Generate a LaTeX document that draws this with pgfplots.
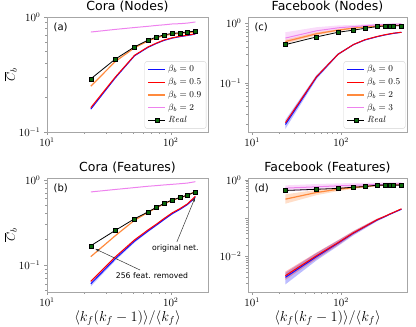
\documentclass[border=0pt]{standalone}
\usepackage{fontspec}
\usepackage{pgfplots}
\pgfplotsset{compat=1.18}
\usetikzlibrary{arrows.meta}
\newfontfamily\dv{DejaVu Sans}

\definecolor{mplblue}{HTML}{1010FF}
\definecolor{mplred}{HTML}{FF0000}
\definecolor{mplorange}{HTML}{FF8A3D}
\definecolor{mplviolet}{HTML}{EE82EE}
\definecolor{realgreen}{HTML}{0B6A0B}

\pgfplotsset{
  mypanel/.style={
    scale only axis,
    xtick={10,100},
    axis line style={gray!70},
    every tick/.style={gray!80},
    tick align=outside,
    xtick pos=left, ytick pos=left,
    major tick length=3pt, minor tick length=1.6pt,
    tick label style={font=\fontsize{10.5}{11}\selectfont},
    xticklabel style={yshift=1pt},
    title style={font=\dv\fontsize{12.5}{14}\selectfont, yshift=-5pt},
    legend cell align=left,
    legend style={font=\fontsize{9}{10}\selectfont, draw=gray!35, rounded corners=2pt,
      fill=white, row sep=1pt, inner xsep=3pt, inner ysep=2pt},
  },
  myylab/.style={ylabel={$\overline{C}_b$}, ylabel style={font=\fontsize{13}{14}\selectfont, at={(axis description cs:-0.225,0.5)}, anchor=center}},
  myxlab/.style={xlabel={$\langle k_f(k_f-1)\rangle/\langle k_f\rangle$}, xlabel style={font=\fontsize{14}{15}\selectfont, at={(axis description cs:0.5,-0.228)}, anchor=center}},
  realplot/.style={black, line width=0.8pt, mark=square*, mark size=2pt, mark options={fill=realgreen, draw=black, line width=0.4pt}},
  pblue/.style={color=mplblue, line width=1pt},
  pred/.style={color=mplred, line width=1pt},
  porange/.style={color=mplorange, line width=1.2pt},
  pviolet/.style={color=mplviolet, line width=1pt},
  band/.style={draw=none, fill=#1, fill opacity=0.28, forget plot},
}

\begin{document}
\begin{tikzpicture}
\useasboundingbox (0,0) rectangle (416pt,327pt);

% (a) Cora (Nodes)
\begin{loglogaxis}[mypanel, myylab, at={(47pt,195pt)}, anchor=south west,
  width=161pt, height=115pt,
  xmin=10, xmax=200, ymin=0.1, ymax=1,
  title={Cora (Nodes)},
  legend style={at={(0.99,0.03)}, anchor=south east}]
\addplot[pblue, forget plot] coordinates {(22.6,0.158)(35.6,0.295)(51,0.46)(65.6,0.545)(77,0.59)(88,0.625)(103,0.655)(119,0.675)(136,0.69)(158,0.71)};
\addplot[pred, forget plot] coordinates {(22.6,0.163)(35.6,0.30)(51,0.465)(65.6,0.55)(77,0.595)(88,0.63)(103,0.66)(119,0.68)(136,0.695)(158,0.715)};
\addplot[porange, forget plot] coordinates {(22.6,0.25)(35.6,0.41)(51,0.54)(65.6,0.62)(77,0.66)(88,0.69)(103,0.71)(119,0.72)(136,0.73)(158,0.74)};
\addplot[pviolet, forget plot] coordinates {(22.6,0.74)(35.6,0.78)(51,0.81)(65.6,0.83)(77,0.845)(88,0.855)(103,0.87)(119,0.875)(136,0.885)(158,0.905)};
\addplot[realplot, forget plot] coordinates {(22.6,0.29)(35.6,0.43)(51,0.55)(65.6,0.63)(77,0.67)(88,0.70)(103,0.72)(119,0.73)(136,0.74)(158,0.755)};
\addlegendimage{pblue}\addlegendentry{$\beta_b=0$}
\addlegendimage{pred}\addlegendentry{$\beta_b=0.5$}
\addlegendimage{porange}\addlegendentry{$\beta_b=0.9$}
\addlegendimage{pviolet}\addlegendentry{$\beta_b=2$}
\addlegendimage{realplot}\addlegendentry{$\mathit{Real}$}
\node[anchor=north west, font=\dv\fontsize{10}{11}\selectfont, inner sep=0pt] at (rel axis cs:0.04,0.95) {(a)};
\end{loglogaxis}

% (c) Facebook (Nodes)
\begin{loglogaxis}[mypanel, at={(248pt,195pt)}, anchor=south west,
  width=159pt, height=115pt,
  xmin=9, xmax=550, ymin=0.015, ymax=1.26,
  title={Facebook (Nodes)},
  legend style={at={(0.99,0.03)}, anchor=south east}]
\addplot[band=mplviolet] coordinates {(23.7,0.70)(53,0.85)(92.5,0.91)(138,0.93)(185,0.95)(254,0.97)(309,0.975)(355,0.98)(388,0.985)(477,0.99)
  (477,0.94)(388,0.925)(355,0.92)(309,0.905)(254,0.89)(185,0.85)(138,0.81)(92.5,0.75)(53,0.64)(23.7,0.46)} -- cycle;
\addplot[band=mplorange] coordinates {(23.7,0.53)(53,0.70)(92.5,0.79)(138,0.85)(185,0.88)(254,0.91)(309,0.92)(355,0.925)(388,0.93)(477,0.935)
  (477,0.905)(388,0.90)(355,0.895)(309,0.89)(254,0.87)(185,0.84)(138,0.79)(92.5,0.73)(53,0.62)(23.7,0.45)} -- cycle;
\addplot[band=mplblue] coordinates {(23.7,0.024)(53,0.135)(92.5,0.31)(138,0.445)(185,0.53)(254,0.60)(309,0.64)(355,0.665)(388,0.68)(477,0.71)
  (477,0.69)(388,0.66)(355,0.645)(309,0.62)(254,0.58)(185,0.51)(138,0.425)(92.5,0.29)(53,0.115)(23.7,0.017)} -- cycle;
\addplot[pblue, forget plot] coordinates {(23.7,0.020)(53,0.124)(92.5,0.30)(138,0.435)(185,0.52)(254,0.59)(309,0.63)(355,0.655)(388,0.67)(477,0.70)};
\addplot[pred, forget plot] coordinates {(23.7,0.0215)(53,0.127)(92.5,0.30)(138,0.437)(185,0.525)(254,0.595)(309,0.635)(355,0.66)(388,0.675)(477,0.70)};
\addplot[porange, forget plot] coordinates {(23.7,0.49)(53,0.66)(92.5,0.76)(138,0.82)(185,0.86)(254,0.89)(309,0.905)(355,0.91)(388,0.915)(477,0.92)};
\addplot[pviolet, forget plot] coordinates {(23.7,0.56)(53,0.74)(92.5,0.83)(138,0.87)(185,0.90)(254,0.93)(309,0.94)(355,0.95)(388,0.955)(477,0.965)};
\addplot[realplot, forget plot] coordinates {(23.7,0.435)(53,0.585)(92.5,0.70)(138,0.76)(185,0.815)(254,0.87)(309,0.89)(355,0.90)(388,0.90)(477,0.90)};
\addlegendimage{pblue}\addlegendentry{$\beta_b=0$}
\addlegendimage{pred}\addlegendentry{$\beta_b=0.5$}
\addlegendimage{porange}\addlegendentry{$\beta_b=2$}
\addlegendimage{pviolet}\addlegendentry{$\beta_b=3$}
\addlegendimage{realplot}\addlegendentry{$\mathit{Real}$}
\node[anchor=north west, font=\dv\fontsize{10}{11}\selectfont, inner sep=0pt] at (rel axis cs:0.04,0.95) {(c)};
\end{loglogaxis}

% (b) Cora (Features)
\begin{loglogaxis}[mypanel, myylab, myxlab, at={(47pt,35pt)}, anchor=south west,
  width=161pt, height=114pt,
  xmin=10, xmax=200, ymin=0.048, ymax=1.05,
  title={Cora (Features)}]
\addplot[band=mplblue] coordinates {(22.6,0.064)(35.6,0.124)(51,0.197)(65.6,0.257)(77,0.302)(88,0.347)(103,0.407)(119,0.457)(136,0.517)(158,0.63)
  (158,0.61)(136,0.503)(119,0.443)(103,0.393)(88,0.333)(77,0.288)(65.6,0.243)(51,0.183)(35.6,0.112)(22.6,0.056)} -- cycle;
\addplot[pblue] coordinates {(22.6,0.060)(35.6,0.118)(51,0.19)(65.6,0.25)(77,0.295)(88,0.34)(103,0.40)(119,0.45)(136,0.51)(158,0.62)};
\addplot[pred] coordinates {(22.6,0.064)(35.6,0.124)(51,0.197)(65.6,0.258)(77,0.303)(88,0.35)(103,0.41)(119,0.46)(136,0.52)(158,0.64)};
\addplot[porange] coordinates {(22.6,0.125)(35.6,0.22)(51,0.335)(65.6,0.415)(77,0.47)(88,0.52)(103,0.575)(119,0.615)(136,0.655)(158,0.73)};
\addplot[pviolet] coordinates {(22.6,0.72)(35.6,0.77)(51,0.81)(65.6,0.84)(77,0.855)(88,0.87)(103,0.885)(119,0.90)(136,0.915)(158,0.95)};
\addplot[realplot] coordinates {(22.6,0.168)(35.6,0.254)(51,0.348)(65.6,0.42)(77,0.476)(88,0.527)(103,0.58)(119,0.62)(136,0.66)(158,0.72)};
\node[anchor=north west, font=\dv\fontsize{10}{11}\selectfont, inner sep=0pt] at (rel axis cs:0.04,0.95) {(b)};
\draw[black!80, line width=0.5pt, -{Stealth[length=4pt, width=3pt]}] (axis cs:112,0.186) -- (axis cs:157,0.614);
\node[font=\dv\fontsize{7.7}{9}\selectfont] at (axis cs:109,0.158) {original net.};
\draw[black!80, line width=0.5pt, -{Stealth[length=4pt, width=3pt]}] (axis cs:56.5,0.087) -- (axis cs:24.6,0.154);
\node[font=\dv\fontsize{7.7}{9}\selectfont] at (axis cs:70.6,0.074) {256 feat. removed};
\end{loglogaxis}

% (d) Facebook (Features)
\begin{loglogaxis}[mypanel, myxlab, at={(248pt,35pt)}, anchor=south west,
  width=159pt, height=114pt,
  xmin=9, xmax=550, ymin=0.0012, ymax=1.12,
  ytick={0.001,0.01,0.1,1}, yticklabels={,$10^{-2}$,,$10^{0}$},
  title={Facebook (Features)}]
\addplot[band=mplviolet] coordinates {(23.7,0.72)(53,0.78)(92.5,0.81)(138,0.83)(185,0.84)(254,0.85)(309,0.86)(355,0.86)(388,0.865)(477,0.87)
  (477,0.72)(388,0.70)(355,0.70)(309,0.69)(254,0.67)(185,0.64)(138,0.62)(92.5,0.60)(53,0.55)(23.7,0.50)} -- cycle;
\addplot[band=mplorange] coordinates {(23.7,0.42)(53,0.55)(92.5,0.63)(138,0.68)(185,0.71)(254,0.76)(309,0.77)(355,0.78)(388,0.78)(477,0.79)
  (477,0.73)(388,0.72)(355,0.72)(309,0.71)(254,0.68)(185,0.63)(138,0.58)(92.5,0.51)(53,0.40)(23.7,0.24)} -- cycle;
\addplot[band=mplblue] coordinates {(23.7,0.0038)(53,0.0125)(92.5,0.0265)(138,0.046)(185,0.066)(254,0.096)(309,0.115)(355,0.133)(388,0.145)(477,0.177)
  (477,0.167)(388,0.135)(355,0.123)(309,0.104)(254,0.084)(185,0.054)(138,0.036)(92.5,0.0190)(53,0.0080)(23.7,0.0019)} -- cycle;
\addplot[band=mplred] coordinates {(23.7,0.0041)(53,0.0128)(92.5,0.027)(138,0.047)(185,0.067)(254,0.098)(309,0.117)(355,0.135)(388,0.147)(477,0.181)
  (477,0.173)(388,0.137)(355,0.125)(309,0.107)(254,0.086)(185,0.056)(138,0.038)(92.5,0.020)(53,0.0088)(23.7,0.0025)} -- cycle;
\addplot[pblue] coordinates {(23.7,0.0029)(53,0.0100)(92.5,0.0225)(138,0.041)(185,0.060)(254,0.090)(309,0.110)(355,0.128)(388,0.140)(477,0.172)};
\addplot[pred] coordinates {(23.7,0.0032)(53,0.0106)(92.5,0.0232)(138,0.042)(185,0.061)(254,0.092)(309,0.112)(355,0.130)(388,0.142)(477,0.177)};
\addplot[porange] coordinates {(23.7,0.315)(53,0.47)(92.5,0.57)(138,0.63)(185,0.67)(254,0.72)(309,0.74)(355,0.745)(388,0.75)(477,0.76)};
\addplot[pviolet] coordinates {(23.7,0.61)(53,0.66)(92.5,0.70)(138,0.72)(185,0.74)(254,0.76)(309,0.77)(355,0.775)(388,0.78)(477,0.79)};
\addplot[realplot] coordinates {(23.7,0.53)(53,0.57)(92.5,0.60)(138,0.645)(185,0.67)(254,0.73)(309,0.73)(355,0.73)(388,0.73)(477,0.73)};
\node[anchor=north west, font=\dv\fontsize{10}{11}\selectfont, inner sep=0pt] at (rel axis cs:0.04,0.95) {(d)};
\end{loglogaxis}
\end{tikzpicture}
\end{document}
